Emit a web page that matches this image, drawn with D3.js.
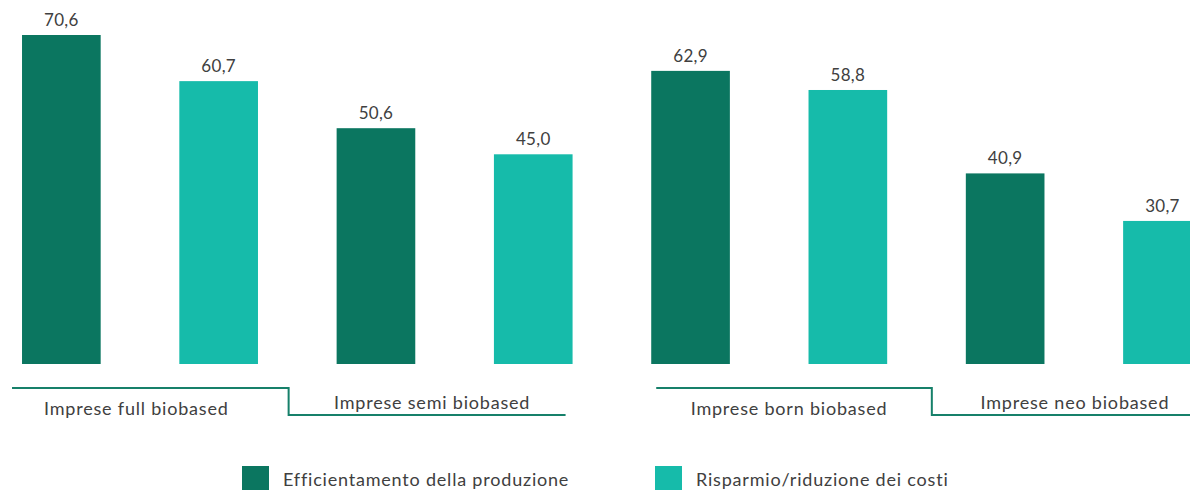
<!DOCTYPE html>
<html>
<head>
<meta charset="utf-8">
<script src="https://cdn.jsdelivr.net/npm/d3@7"></script>
<style>
  html, body { margin: 0; padding: 0; background: #ffffff; }
  svg { display: block; font-family: Lato, "Open Sans", sans-serif; }
</style>
</head>
<body>
<svg id="chart" width="1190" height="490"></svg>
<script>
// Bars in drawing order: two company types per panel, two motivations each
const barKeys = ["full-eff", "full-ris", "semi-eff", "semi-ris", "born-eff", "born-ris", "neo-eff", "neo-ris"];
const barSeries = ["eff", "ris", "eff", "ris", "eff", "ris", "eff", "ris"];
const barValues = [70.6, 60.7, 50.6, 45.0, 62.9, 58.8, 40.9, 30.7];

const seriesKeys = ["eff", "ris"];
const seriesNames = ["Efficientamento della produzione", "Risparmio/riduzione dei costi"];
const seriesColors = ["#0b7660", "#16bbaa"];

const groupNames = ["Imprese full biobased", "Imprese semi biobased", "Imprese born biobased", "Imprese neo biobased"];

const W = 1190, H = 490;
const baseY = 364, topY = 35;

const svg = d3.select("#chart");

const x = d3.scaleBand()
  .domain(barKeys)
  .range([-17.3, 1241.1])
  .paddingInner(0.5)
  .paddingOuter(0.25);

const y = d3.scaleLinear()
  .domain([0, 70.6])
  .range([baseY, topY]);

const color = d3.scaleOrdinal().domain(seriesKeys).range(seriesColors);
const it = d3.formatLocale({ decimal: ",", thousands: ".", grouping: [3], currency: ["€", ""] });
const fmt = it.format(".1f");

const data = barKeys.map((k, i) => ({ key: k, series: barSeries[i], value: barValues[i] }));

// Bars
svg.append("g").selectAll("rect")
  .data(data)
  .join("rect")
  .attr("x", d => x(d.key))
  .attr("y", d => y(d.value))
  .attr("width", x.bandwidth())
  .attr("height", d => baseY - y(d.value))
  .attr("fill", d => color(d.series));

// Value labels
svg.append("g").selectAll("text")
  .data(data)
  .join("text")
  .attr("x", d => x(d.key) + x.bandwidth() / 2)
  .attr("y", d => y(d.value) - 9)
  .attr("text-anchor", "middle")
  .attr("font-size", 17)
  .attr("letter-spacing", 0.3)
  .attr("fill", "#404040")
  .text(d => fmt(d.value));

// Stepped brackets under each panel
const bw = x.bandwidth();
const panels = [
  { xL: x(barKeys[0]) - 10, xS: x(barKeys[2]) - 48, xR: x(barKeys[3]) + bw - 7,
    labels: [groupNames[0], groupNames[1]], dxUp: -14, dxDown: 5 },
  { xL: x(barKeys[4]) + 5, xS: x(barKeys[6]) - 34, xR: W + 2,
    labels: [groupNames[2], groupNames[3]], dxUp: -5, dxDown: 34 }
];
const yUp = 388, yDown = 415;

const labelStyle = sel => sel
  .attr("font-size", 18)
  .attr("letter-spacing", 0.8)
  .attr("fill", "#404040");

const br = svg.append("g");
panels.forEach(p => {
  br.append("path")
    .attr("d", `M${p.xL},${yUp}H${p.xS}V${yDown}H${p.xR}`)
    .attr("fill", "none")
    .attr("stroke", "#16806a")
    .attr("stroke-width", 2);
  br.append("text")
    .attr("x", (p.xL + p.xS) / 2 + p.dxUp)
    .attr("y", 415)
    .attr("text-anchor", "middle")
    .call(labelStyle)
    .text(p.labels[0]);
  br.append("text")
    .attr("x", (p.xS + Math.min(p.xR, W - 40)) / 2 + p.dxDown)
    .attr("y", 409)
    .attr("text-anchor", "middle")
    .call(labelStyle)
    .text(p.labels[1]);
});

// Legend
const legendX = [242, 655];
const lg = svg.append("g");
seriesKeys.forEach((k, i) => {
  lg.append("rect")
    .attr("x", legendX[i])
    .attr("y", 466)
    .attr("width", 27)
    .attr("height", 24)
    .attr("fill", color(k));
  lg.append("text")
    .attr("x", legendX[i] + 41)
    .attr("y", 486)
    .call(labelStyle)
    .text(seriesNames[i]);
});
</script>
</body>
</html>
